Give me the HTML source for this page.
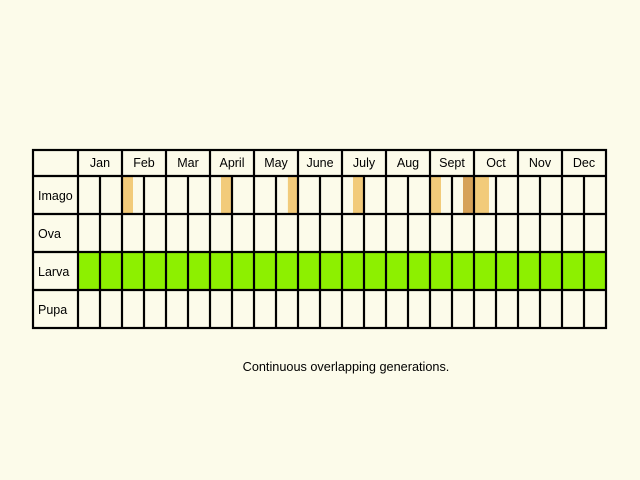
<!DOCTYPE html>
<html><head><meta charset="utf-8"><style>
html,body{margin:0;padding:0;background:#fcfbea;}
svg{display:block;font-family:"Liberation Sans",sans-serif;}
</style></head><body>
<svg id="chart" width="640" height="480" viewBox="0 0 640 480">
<rect x="0" y="0" width="640" height="480" fill="#fcfbea"/>
<g id="marks"></g>
<g id="grid"></g>
<g id="labels"></g>
<text x="346" y="371" font-size="12.7" text-anchor="middle" fill="#000">Continuous overlapping generations.</text>
</svg>
<script>
const months = ["Jan","Feb","Mar","April","May","June","July","Aug","Sept","Oct","Nov","Dec"];
const stages = ["Imago","Ova","Larva","Pupa"];
// imago sightings: [month index, start fraction of month, end fraction of month]
const imagoStart = [1, 3, 4, 6, 8, 8, 9];
const imagoFrom  = [0.02, 0.25, 0.77, 0.25, 0.0, 0.75, 0.0];
const imagoTo    = [0.25, 0.5, 1.0, 0.5, 0.25, 1.0, 0.34];
const imagoTone  = ["light","light","light","light","light","dark","light"];
// larva present in every month
const larvaMonths = [0,1,2,3,4,5,6,7,8,9,10,11];

const NS = "http://www.w3.org/2000/svg";
const tblLeft = 33, labelRight = 78, tblRight = 606, tableTop = 150, headBottom = 176;
const rowBottoms = [214, 252, 290, 328];
const mw = (tblRight - labelRight) / months.length;
const xScale = m => labelRight + m * mw;
const rowTop = i => i === 0 ? headBottom : rowBottoms[i-1];
function mk(tag, attrs, parent){const e=document.createElementNS(NS,tag);for(const k in attrs)e.setAttribute(k,attrs[k]);parent.appendChild(e);return e;}
const marks=document.getElementById('marks'), grid=document.getElementById('grid'), labels=document.getElementById('labels');

larvaMonths.forEach(m=>{
  const r=mk('rect',{x:xScale(m),y:rowTop(2),width:mw,height:rowBottoms[2]-rowTop(2),fill:'#8df000'},marks);
  
  
});
imagoStart.forEach((m,i)=>{
  const x0=xScale(m+imagoFrom[i]), x1=xScale(m+imagoTo[i]);
  const r=mk('rect',{x:x0,y:rowTop(0),width:x1-x0,height:rowBottoms[0]-rowTop(0),fill:imagoTone[i]==='dark'?'#d6a258':'#f2cb7a'},marks);
  
  
});

const sw=2.2;
mk('rect',{x:tblLeft,y:tableTop,width:tblRight-tblLeft,height:rowBottoms[3]-tableTop,fill:'none',stroke:'#000','stroke-width':sw},grid);
[headBottom,...rowBottoms.slice(0,3)].forEach(y=>mk('line',{x1:tblLeft,x2:tblRight,y1:y,y2:y,stroke:'#000','stroke-width':sw},grid));
mk('line',{x1:labelRight,x2:labelRight,y1:tableTop,y2:rowBottoms[3],stroke:'#000','stroke-width':sw},grid);
months.forEach((mo,m)=>{
  if(m>0) mk('line',{x1:xScale(m),x2:xScale(m),y1:tableTop,y2:rowBottoms[3],stroke:'#000','stroke-width':sw},grid);
  mk('line',{x1:xScale(m+0.5),x2:xScale(m+0.5),y1:headBottom,y2:rowBottoms[3],stroke:'#000','stroke-width':sw},grid);
  const t=mk('text',{x:xScale(m+0.5),y:167,'font-size':12.5,'text-anchor':'middle',fill:'#000'},labels);
  t.textContent=mo;
  
  
});
stages.forEach((s,i)=>{
  const t=mk('text',{x:38,y:(rowTop(i)+rowBottoms[i])/2+5,'font-size':12.5,fill:'#000'},labels);
  t.textContent=s;
  
  
});
</script>
</body></html>
